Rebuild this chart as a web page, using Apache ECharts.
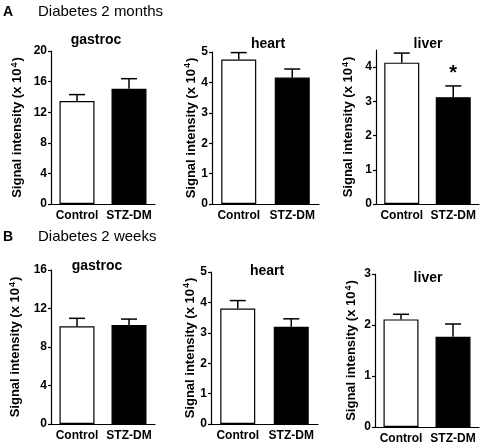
<!DOCTYPE html>
<html>
<head>
<meta charset="utf-8">
<script src="https://cdn.jsdelivr.net/npm/echarts@6/dist/echarts.min.js"></script>
<style>html,body{margin:0;padding:0;background:#fff;}#c{width:482px;height:448px;}</style>
</head>
<body>
<div id="c"></div>
<script>
// ---- data ----
const categories = ['Control', 'STZ-DM'];
const panelTitles = ['gastroc', 'heart', 'liver', 'gastroc', 'heart', 'liver'];
const sectionLetters = ['A', 'B'];
const sectionTitles = ['Diabetes 2 months', 'Diabetes 2 weeks'];
const yAxisName = 'Signal intensity (x 10';
const yAxisExp = '4';

const monthsGastrocMean = [13.45, 15.05];
const monthsGastrocErr  = [0.85, 1.33];
const monthsHeartMean   = [4.75, 4.16];
const monthsHeartErr    = [0.23, 0.28];
const monthsLiverMean   = [4.13, 3.12];
const monthsLiverErr    = [0.28, 0.33];
const monthsLiverSig    = ['', '*'];

const weeksGastrocMean  = [10.15, 10.29];
const weeksGastrocErr   = [0.83, 0.61];
const weeksHeartMean    = [3.80, 3.20];
const weeksHeartErr     = [0.26, 0.26];
const weeksLiverMean    = [2.11, 1.77];
const weeksLiverErr     = [0.10, 0.25];

const yMax      = [20, 5, 4.5, 16, 5, 3];
const yInterval = [4, 1, 1, 4, 1, 1];
const yTickValues = [
  [0, 4, 8, 12, 16, 20],
  [0, 1, 2, 3, 4, 5],
  [0, 1, 2, 3, 4],
  [0, 4, 8, 12, 16],
  [0, 1, 2, 3, 4, 5],
  [0, 1, 2, 3]
];

// ---- layout ----
const FONT = 'Liberation Sans, Arial, sans-serif';
const panels = [
  {mean: monthsGastrocMean, err: monthsGastrocErr, sig: null,
   grid: {left: 51, top: 51, width: 104, height: 153}, nameGap: 26, title: {x: 96, y: 33}},
  {mean: monthsHeartMean, err: monthsHeartErr, sig: null,
   grid: {left: 212, top: 52, width: 107, height: 152}, nameGap: 13, title: {x: 268, y: 37}},
  {mean: monthsLiverMean, err: monthsLiverErr, sig: monthsLiverSig,
   grid: {left: 376, top: 50, width: 103, height: 154}, nameGap: 20, title: {x: 428, y: 37}},
  {mean: weeksGastrocMean, err: weeksGastrocErr, sig: null,
   grid: {left: 51, top: 270, width: 104, height: 154}, nameGap: 28, title: {x: 97, y: 259}},
  {mean: weeksHeartMean, err: weeksHeartErr, sig: null,
   grid: {left: 211, top: 272, width: 107, height: 152}, nameGap: 11, title: {x: 267, y: 264}},
  {mean: weeksLiverMean, err: weeksLiverErr, sig: null,
   grid: {left: 375, top: 274, width: 104, height: 153}, nameGap: 16, title: {x: 428, y: 271}}
];

const grids = [], xAxes = [], yAxes = [], series = [], titles = [];

titles.push({text: sectionLetters[0], left: 3, top: 5, padding: 0, textStyle: {fontFamily: FONT, fontSize: 14, fontWeight: 'bold', color: '#000'}});
titles.push({text: sectionTitles[0], left: 38, top: 4, padding: 0, textStyle: {fontFamily: FONT, fontSize: 15, fontWeight: 'normal', color: '#000'}});
titles.push({text: sectionLetters[1], left: 3, top: 230, padding: 0, textStyle: {fontFamily: FONT, fontSize: 14, fontWeight: 'bold', color: '#000'}});
titles.push({text: sectionTitles[1], left: 38, top: 229, padding: 0, textStyle: {fontFamily: FONT, fontSize: 15, fontWeight: 'normal', color: '#000'}});

panels.forEach((p, i) => {
  grids.push(Object.assign({containLabel: false}, p.grid));
  titles.push({text: panelTitles[i], left: p.title.x, top: p.title.y, textAlign: 'center', padding: 0,
    textStyle: {fontFamily: FONT, fontSize: 14, fontWeight: 'bold', color: '#000'}});
  xAxes.push({
    type: 'category', gridIndex: i, data: categories,
    axisLine: {lineStyle: {color: '#000', width: 1.2}},
    axisTick: {show: false},
    axisLabel: {interval: 0, fontFamily: FONT, fontSize: 12, fontWeight: 'bold', color: '#000', margin: 6}
  });
  yAxes.push({
    type: 'value', gridIndex: i, min: 0, max: yMax[i], interval: yInterval[i],
    name: '{a|' + yAxisName + '}{s|' + yAxisExp + '}{a|)}',
    nameLocation: 'middle', nameGap: p.nameGap,
    nameTextStyle: {
      rich: {
        a: {fontFamily: FONT, fontSize: 13, fontWeight: 'bold', color: '#000', lineHeight: 15},
        s: {fontFamily: FONT, fontSize: 9, fontWeight: 'bold', color: '#000', verticalAlign: 'top', lineHeight: 15, padding: [0, 1, 0, 1]}
      }
    },
    splitLine: {show: false},
    axisLine: {show: true, lineStyle: {color: '#000', width: 1.2}},
    axisTick: {show: true, length: 3, lineStyle: {color: '#000', width: 1.2}, customValues: yTickValues[i]},
    axisLabel: {fontFamily: FONT, fontSize: 12, fontWeight: 'bold', color: '#000', margin: 4, customValues: yTickValues[i]}
  });
  series.push({
    type: 'bar', xAxisIndex: i, yAxisIndex: i, barWidth: 35,
    data: p.mean.map((v, k) => ({value: v, itemStyle: {color: k === 0 ? '#fff' : '#000'}})),
    itemStyle: {borderColor: '#000', borderWidth: 1.2},
    silent: true, animation: false, z: 2
  });
  const sig = p.sig;
  series.push({
    type: 'custom', xAxisIndex: i, yAxisIndex: i, z: 3, animation: false, silent: true,
    data: p.mean.map((v, k) => [k, v, p.err[k]]),
    renderItem: function (params, api) {
      const x = api.value(0), m = api.value(1), e = api.value(2);
      const a = api.coord([x, m]);
      const b = api.coord([x, m + e]);
      const style = {stroke: '#000', lineWidth: 1.5};
      const children = [
        {type: 'line', shape: {x1: a[0], y1: a[1], x2: b[0], y2: b[1]}, style: style},
        {type: 'line', shape: {x1: b[0] - 8, y1: b[1], x2: b[0] + 8, y2: b[1]}, style: style}
      ];
      if (sig && sig[params.dataIndex]) {
        children.push({type: 'text', x: b[0], y: b[1] - 2,
          style: {text: sig[params.dataIndex], fill: '#000', font: 'bold 20px ' + FONT, align: 'center', verticalAlign: 'bottom'}});
      }
      return {type: 'group', children: children};
    }
  });
});

const chart = echarts.init(document.getElementById('c'), null, {renderer: 'canvas'});
chart.setOption({
  animation: false,
  backgroundColor: '#fff',
  title: titles,
  grid: grids,
  xAxis: xAxes,
  yAxis: yAxes,
  series: series
});
</script>
</body>
</html>
